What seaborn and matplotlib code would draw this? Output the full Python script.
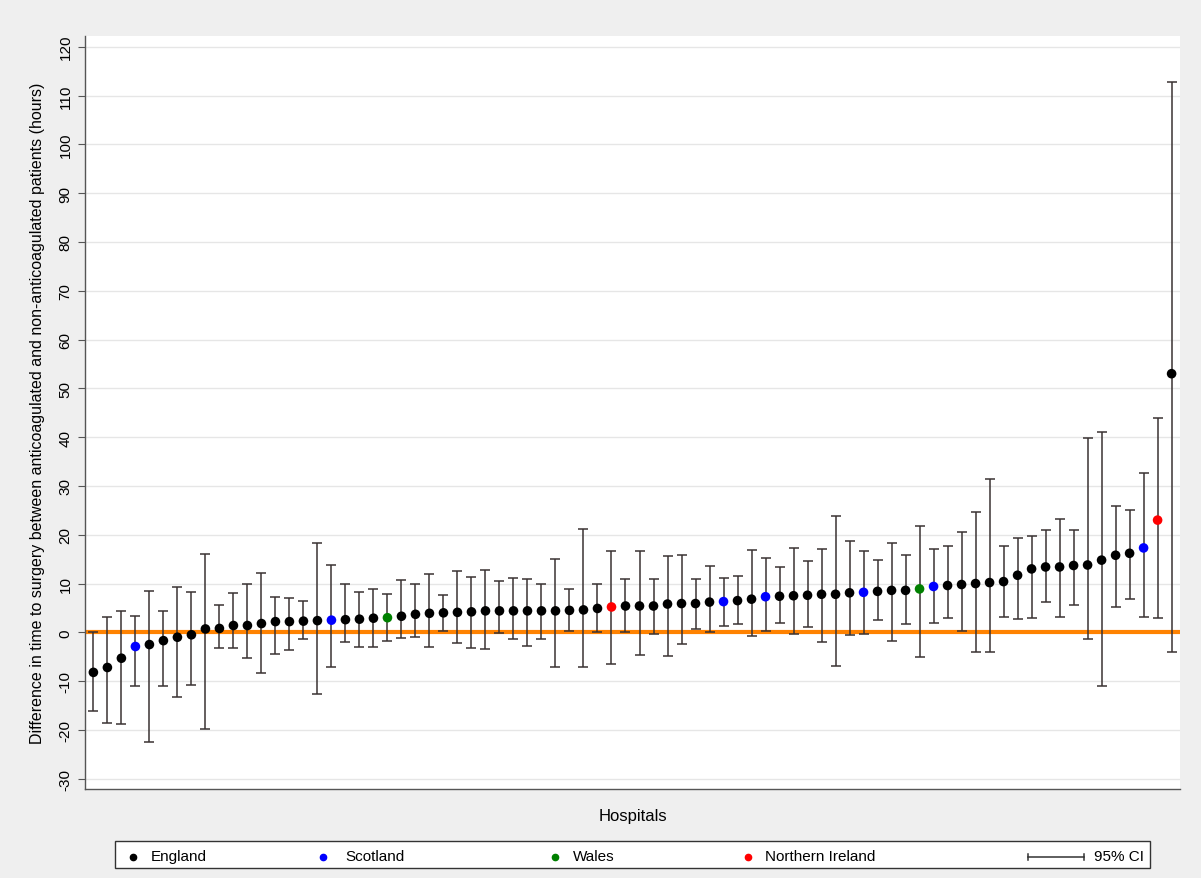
import numpy as np
import pandas as pd
import matplotlib
matplotlib.use('Agg')
import matplotlib.pyplot as plt
from matplotlib.lines import Line2D
from matplotlib.patches import Rectangle
import seaborn as sns

# estimate and 95% CI for each hospital, sorted by estimate
est = [-8.2, -7.2, -5.3, -2.9, -2.5, -1.7, -1.0, -0.5, 0.7, 0.8,
       1.4, 1.4, 1.8, 2.2, 2.2, 2.3, 2.4, 2.5, 2.6, 2.7,
       2.9, 3.0, 3.3, 3.7, 3.9, 4.0, 4.1, 4.2, 4.4, 4.4,
       4.4, 4.4, 4.4, 4.4, 4.5, 4.6, 4.9, 5.2, 5.4, 5.4,
       5.4, 5.8, 5.9, 5.9, 6.2, 6.3, 6.5, 6.8, 7.3, 7.4,
       7.5, 7.6, 7.8, 7.8, 8.1, 8.2, 8.4, 8.6, 8.6, 8.9,
       9.4, 9.6, 9.8, 10.0, 10.2, 10.4, 11.7, 13.0, 13.4, 13.4,
       13.7, 13.8, 14.8, 15.8, 16.2, 17.3, 23.0, 53.0]
upper = [0.1, 3.1, 4.4, 3.3, 8.4, 4.4, 9.3, 8.2, 16.0, 5.6,
         8.0, 9.9, 12.1, 7.3, 7.0, 6.4, 18.4, 13.8, 10.0, 8.3,
         8.9, 7.8, 10.8, 10.0, 11.9, 7.6, 12.5, 11.3, 12.7, 10.6,
         11.1, 11.0, 9.9, 15.1, 8.9, 21.2, 10.0, 16.6, 11.0, 16.6,
         11.0, 15.7, 15.9, 11.0, 13.6, 11.2, 11.5, 16.9, 15.3, 13.4,
         17.3, 14.6, 17.0, 23.9, 18.7, 16.6, 14.9, 18.4, 15.8, 21.7,
         17.0, 17.7, 20.5, 24.7, 31.5, 17.7, 19.4, 19.8, 21.0, 23.3,
         21.0, 39.9, 41.1, 25.8, 25.0, 32.7, 44.0, 112.7]
lower = [-16.2, -18.6, -18.8, -11.0, -22.4, -11.0, -13.2, -10.8, -19.8, -3.3,
         -3.3, -5.2, -8.4, -4.4, -3.6, -1.4, -12.6, -7.2, -2.0, -3.1,
         -2.9, -1.8, -1.2, -1.0, -2.9, 0.3, -2.2, -3.3, -3.4, -0.2,
         -1.4, -2.8, -1.4, -7.2, 0.3, -7.0, 0.1, -6.5, 0.0, -4.6,
         -0.3, -4.9, -2.4, 0.7, 0.1, 1.2, 1.8, -0.8, 0.2, 2.0,
         -0.3, 1.0, -2.0, -6.9, -0.6, -0.3, 2.5, -1.7, 1.7, -5.0,
         2.0, 2.9, 0.3, -4.0, -4.0, 3.2, 2.8, 2.9, 6.3, 3.1,
         5.7, -1.3, -11.0, 5.1, 6.9, 3.1, 3.0, -4.0]

scotland = [4, 18, 46, 49, 56, 61, 76]
wales = [22, 60]
northern_ireland = [38, 77]

nations = ['England', 'Scotland', 'Wales', 'Northern Ireland']
colors = ['black', 'blue', 'green', 'red']

hosp = np.arange(1, len(est) + 1)
nation = []
for h in hosp:
    if h in scotland:
        nation.append('Scotland')
    elif h in wales:
        nation.append('Wales')
    elif h in northern_ireland:
        nation.append('Northern Ireland')
    else:
        nation.append('England')

df = pd.DataFrame({'hospital': hosp, 'est': est, 'lo': lower, 'hi': upper, 'nation': nation})

bg = '#efefef'
ci_col = '#3a3333'
W, H = 1201, 879

fig = plt.figure(figsize=(W / 100, H / 100), dpi=100, facecolor=bg)
ax = fig.add_axes([85/W, 89/H, 1095/W, 753/H])
ax.set_facecolor('white')

ax.axhline(0, color='#ff8200', lw=3, zorder=1)
ax.errorbar(df.hospital, df.est,
            yerr=[df.est - df.lo, df.hi - df.est],
            fmt='none', ecolor=ci_col, elinewidth=1.1, capsize=3.6, capthick=1.1, zorder=2)
sns.scatterplot(data=df, x='hospital', y='est', hue='nation', hue_order=nations,
                palette=colors, s=48, edgecolor='none', legend=False, zorder=3, ax=ax)

ax.set_xlim(0.4, 78.6)
ax.set_ylim(-32.1, 122.2)
ax.set_yticks(np.arange(-30, 121, 10))
ax.set_yticklabels([str(v) for v in range(-30, 121, 10)], rotation=90, va='center',
                   fontsize=11, family='Liberation Sans')
ax.set_xticks([])
ax.grid(axis='y', color='#e6e6e6', lw=1)
ax.set_axisbelow(True)
for s in ['top', 'right']:
    ax.spines[s].set_visible(False)
for s in ['left', 'bottom']:
    ax.spines[s].set_color('#555555')
    ax.spines[s].set_linewidth(1)
ax.tick_params(axis='y', length=5, color='#555555', pad=4)

ax.set_xlabel('Hospitals', fontsize=12, family='Liberation Sans', labelpad=14)
ax.set_ylabel('Difference in time to surgery between anticoagulated and non-anticoagulated patients (hours)',
              fontsize=11.5, family='Liberation Sans', labelpad=10)


# legend box drawn in figure pixels, laid out like the Stata key
def px(x):
    return x / W


def py(y):
    return 1 - y / H


fig.add_artist(Rectangle((px(115), py(869)), px(1150) - px(115), py(842) - py(869),
                         transform=fig.transFigure, facecolor='white',
                         edgecolor='#333333', lw=1))
ly = py(857.5)
dot_x = [133, 323, 555, 748]
text_x = [151, 345, 573, 765]
for name, c, dx, tx in zip(nations, colors, dot_x, text_x):
    fig.add_artist(Line2D([px(dx)], [ly], marker='o', ms=4.5, color=c, ls='none',
                          transform=fig.transFigure))
    fig.text(px(tx), ly, name, va='center', ha='left', fontsize=11, family='Liberation Sans')
fig.add_artist(Line2D([px(1028), px(1084)], [ly, ly], color='#333333', lw=1.1,
                      transform=fig.transFigure))
for cx in [1028, 1084]:
    fig.add_artist(Line2D([px(cx), px(cx)], [py(854.5), py(860.5)], color='#333333', lw=1.1,
                          transform=fig.transFigure))
fig.text(px(1094), ly, '95% CI', va='center', ha='left', fontsize=11, family='Liberation Sans')

fig.savefig('out.png', dpi=100, facecolor=bg)
